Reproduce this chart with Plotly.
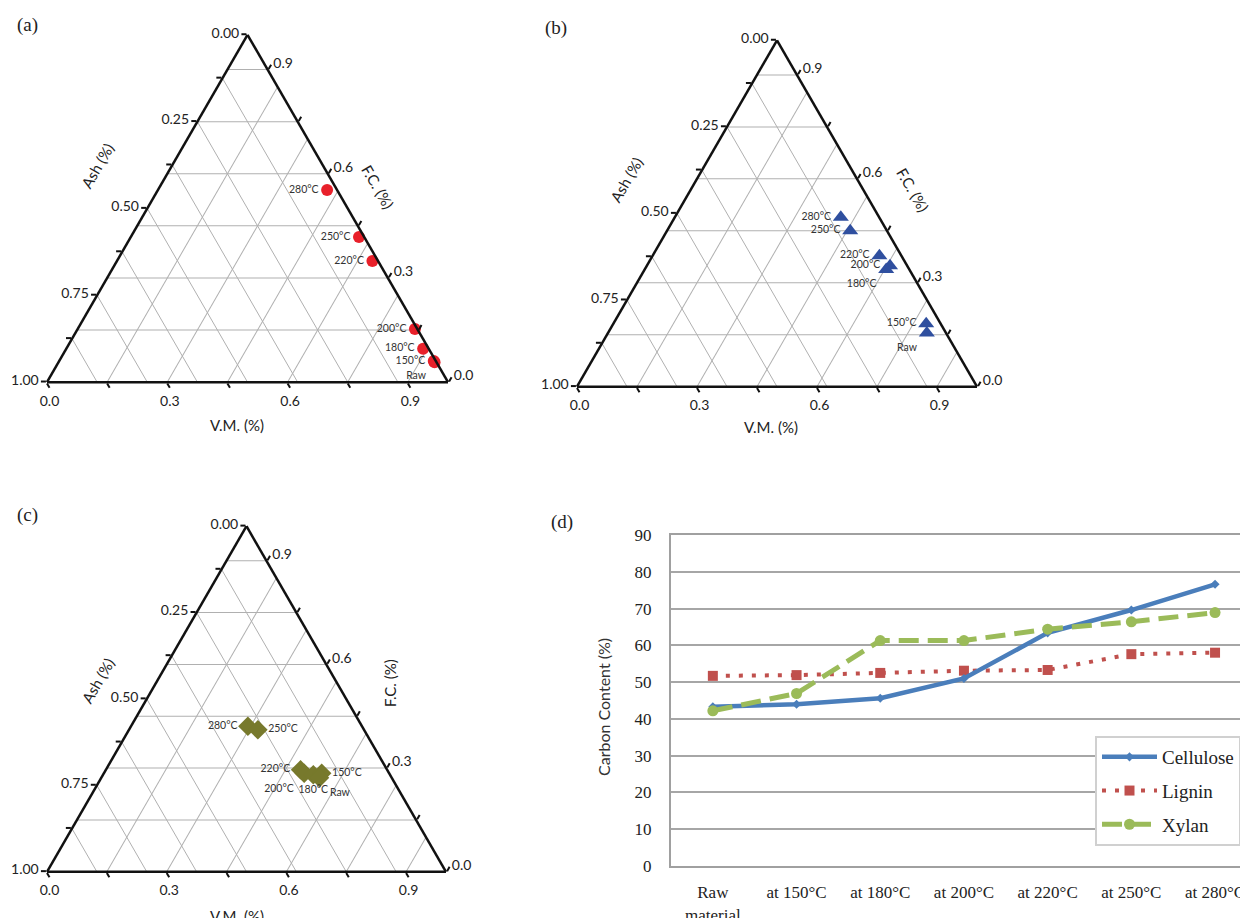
import plotly.graph_objects as go

W, H = 1248, 918
OFF = 8  # the page body adds an 8px margin around the figure
SANS = "Lato"
SERIF = "Liberation Serif"
GRID = "#b0b0b0"

# ---------------- ternary data (F.C., V.M., Ash fractions) ----------------
labels = ["280°C", "250°C", "220°C", "200°C", "180°C", "150°C", "Raw"]

fc_a = [0.553, 0.418, 0.349, 0.153, 0.096, 0.061, 0.057]
vm_a = [0.422, 0.569, 0.637, 0.841, 0.890, 0.934, 0.938]
ash_a = [0.025, 0.013, 0.014, 0.006, 0.014, 0.005, 0.005]

fc_b = [0.489, 0.450, 0.378, 0.349, 0.338, 0.182, 0.155]
vm_b = [0.415, 0.458, 0.567, 0.608, 0.604, 0.782, 0.797]
ash_b = [0.096, 0.092, 0.055, 0.043, 0.058, 0.036, 0.048]

fc_c = [0.421, 0.411, 0.295, 0.285, 0.281, 0.285, 0.272]
vm_c = [0.293, 0.323, 0.488, 0.502, 0.527, 0.546, 0.547]
ash_c = [0.286, 0.266, 0.217, 0.213, 0.192, 0.169, 0.181]

# grid / tick values
fc_grid = [0.15, 0.30, 0.45, 0.60, 0.75, 0.90]
vm_grid = [0.15, 0.30, 0.45, 0.60, 0.75, 0.90]
ash_grid = [0.125, 0.25, 0.375, 0.5, 0.625, 0.75, 0.875]
ash_ticks = [0.0, 0.125, 0.25, 0.375, 0.5, 0.625, 0.75, 0.875, 1.0]
ash_ticktext = ["0.00", "", "0.25", "", "0.50", "", "0.75", "", "1.00"]
vm_ticks = [0.0, 0.15, 0.30, 0.45, 0.60, 0.75, 0.90]
vm_ticktext = ["0.0", "", "0.3", "", "0.6", "", "0.9"]
fc_ticks = [0.0, 0.15, 0.30, 0.45, 0.60, 0.75, 0.90]
fc_ticktext = ["0.0", "", "0.3", "", "0.6", "", "0.9"]

# ---------------- line chart data ----------------
categories = ["Raw<br>material", "at 150°C", "at 180°C", "at 200°C",
              "at 220°C", "at 250°C", "at 280°C"]
cellulose = [43.3, 44.0, 45.6, 51.0, 63.4, 69.6, 76.6]
lignin = [51.7, 51.9, 52.5, 53.1, 53.3, 57.6, 58.0]
xylan = [42.2, 46.9, 61.3, 61.3, 64.4, 66.4, 68.9]
y_ticks = [0, 10, 20, 30, 40, 50, 60, 70, 80, 90]


def px2x(px):
    return (px - OFF) / W


def py2y(py):
    return 1 - (py - OFF) / H


def px_dom(x0, x1, ytop, ybot):
    return dict(x=[px2x(x0), px2x(x1)], y=[py2y(ybot), py2y(ytop)])


def grid_tern(dom):
    def ax(vals):
        return dict(tickvals=vals, tickmode="array", showgrid=True,
                    gridcolor=GRID, gridwidth=1,
                    showticklabels=False, ticks="", showline=False,
                    title=dict(text=""))
    return dict(domain=dom, bgcolor="rgba(0,0,0,0)", sum=1,
                aaxis=ax(fc_grid), baxis=ax(ash_grid), caxis=ax(vm_grid))


def tick_tern(dom):
    def ax(vals, text):
        return dict(tickvals=vals, ticktext=text, tickmode="array",
                    showgrid=False,
                    ticks="outside", ticklen=5, tickwidth=2, tickcolor="#111",
                    showline=True, linecolor="#111", linewidth=2.5,
                    tickfont=dict(family=SANS, size=14, color="#222"),
                    title=dict(text=""))
    return dict(domain=dom, bgcolor="rgba(0,0,0,0)", sum=1,
                aaxis=ax([1 - v for v in ash_ticks], ash_ticktext),
                baxis=ax([1 - v for v in vm_ticks], vm_ticktext),
                caxis=ax([1 - v for v in fc_ticks], fc_ticktext))


dom_a = px_dom(47, 448, 33, 384)
dom_b = px_dom(577, 977, 40, 387)
dom_c = px_dom(47, 446, 525, 873)

fig = go.Figure()

# empty traces so that the grid-only ternary subplots get drawn
for sub in ["ternary", "ternary3", "ternary5"]:
    fig.add_trace(go.Scatterternary(a=[], b=[], c=[], subplot=sub,
                                    mode="markers", showlegend=False,
                                    hoverinfo="skip"))

pos_a = ["middle left"] * 6 + ["bottom left"]
pos_b = ["middle left", "middle left", "middle left", "middle left",
         "bottom left", "middle left", "bottom left"]
pos_c = ["middle left", "middle right", "middle left", "bottom left",
         "bottom center", "middle right", "bottom right"]

for sub, fc, vm, ash, sym, col, pos, size in [
    ("ternary2", fc_a, vm_a, ash_a, "circle", "#e8202a", pos_a, 12),
    ("ternary4", fc_b, vm_b, ash_b, "triangle-up", "#2f4f9f", pos_b, 14),
    ("ternary6", fc_c, vm_c, ash_c, "diamond", "#77792c", pos_c, 15),
]:
    fig.add_trace(go.Scatterternary(
        a=fc, b=ash, c=vm, subplot=sub, mode="markers+text",
        text=labels, textposition=pos,
        textfont=dict(family=SANS, size=10.5, color="#333"),
        marker=dict(symbol=sym, size=size, color=col, line=dict(width=0)),
        cliponaxis=False, showlegend=False))

# ---------------- line chart ----------------
fig.add_trace(go.Scatter(
    x=categories, y=lignin, name="Lignin", legendrank=2, legendgroup="l",
    mode="lines+markers", line=dict(color="#c0504d", width=4, dash="4px,9px"),
    marker=dict(symbol="square", size=10, color="#c0504d")))
fig.add_trace(go.Scatter(
    x=categories, y=cellulose, name="Cellulose", legendrank=1, legendgroup="c",
    mode="lines+markers", line=dict(color="#4a7ebb", width=4.5),
    marker=dict(symbol="diamond", size=7, color="#4a7ebb")))
fig.add_trace(go.Scatter(
    x=categories, y=xylan, name="Xylan", legendrank=3, legendgroup="x",
    mode="lines+markers", line=dict(color="#9bbb59", width=5, dash="20px,9px"),
    marker=dict(symbol="circle", size=11, color="#9bbb59")))

x_left = 671
step = 83.7
r0 = -0.5
r1 = r0 + (1248 - x_left) / step

annotations = []


def ann(text, x, y, size=14, angle=0, family=SANS, color="#222"):
    annotations.append(dict(text=text, x=px2x(x), y=py2y(y), xref="paper",
                            yref="paper", showarrow=False, textangle=angle,
                            font=dict(family=family, size=size, color=color),
                            xanchor="center", yanchor="middle"))


ann("(a)", 27, 25, 19, family=SERIF)
ann("(b)", 556, 28, 19, family=SERIF)
ann("(c)", 27, 515, 19, family=SERIF)
ann("(d)", 562, 522, 19, family=SERIF)

ann("Ash (%)", 97, 166, 15, -60)
ann("F.C. (%)", 378, 187, 15, 60)
ann("V.M. (%)", 237, 425, 15)
ann("Ash (%)", 626, 180, 15, -60)
ann("F.C. (%)", 913, 190, 15, 60)
ann("V.M. (%)", 771, 427, 15)
ann("Ash (%)", 98, 680, 15, -60)
ann("F.C. (%)", 390, 683, 15, -90)
ann("V.M. (%)", 237, 916, 15)

ann("Carbon Content (%)", 603, 707, 16, -90, family=SANS, color="#333")

fig.update_layout(
    width=W, height=H, paper_bgcolor="white", plot_bgcolor="white",
    margin=dict(l=0, r=0, t=0, b=0, autoexpand=False),
    ternary=grid_tern(dom_a), ternary2=tick_tern(dom_a),
    ternary3=grid_tern(dom_b), ternary4=tick_tern(dom_b),
    ternary5=grid_tern(dom_c), ternary6=tick_tern(dom_c),
    xaxis=dict(domain=[px2x(x_left), px2x(1248)], type="category",
               categoryorder="array", categoryarray=categories,
               range=[r0, r1], showgrid=False, showline=True, mirror=True,
               linecolor="#a0a0a0", linewidth=2, ticks="",
               ticklabelstandoff=10,
               tickfont=dict(family=SERIF, size=17, color="#222"),
               anchor="y", zeroline=False),
    yaxis=dict(domain=[py2y(866), py2y(535)], range=[0, 90],
               tickvals=y_ticks, showgrid=True, gridcolor="#a6a6a6",
               gridwidth=2, showline=True, linecolor="#a0a0a0", linewidth=2,
               ticks="", ticklabelstandoff=14, zeroline=False,
               tickfont=dict(family=SERIF, size=17, color="#222"),
               anchor="x"),
    legend=dict(x=px2x(1095), y=py2y(736), xanchor="left", yanchor="top",
                bgcolor="white", bordercolor="#d0d0d0", borderwidth=2,
                font=dict(family=SERIF, size=19, color="#222"),
                itemwidth=55, traceorder="grouped", tracegroupgap=6),
    annotations=annotations,
)

fig.write_html("out.html")
